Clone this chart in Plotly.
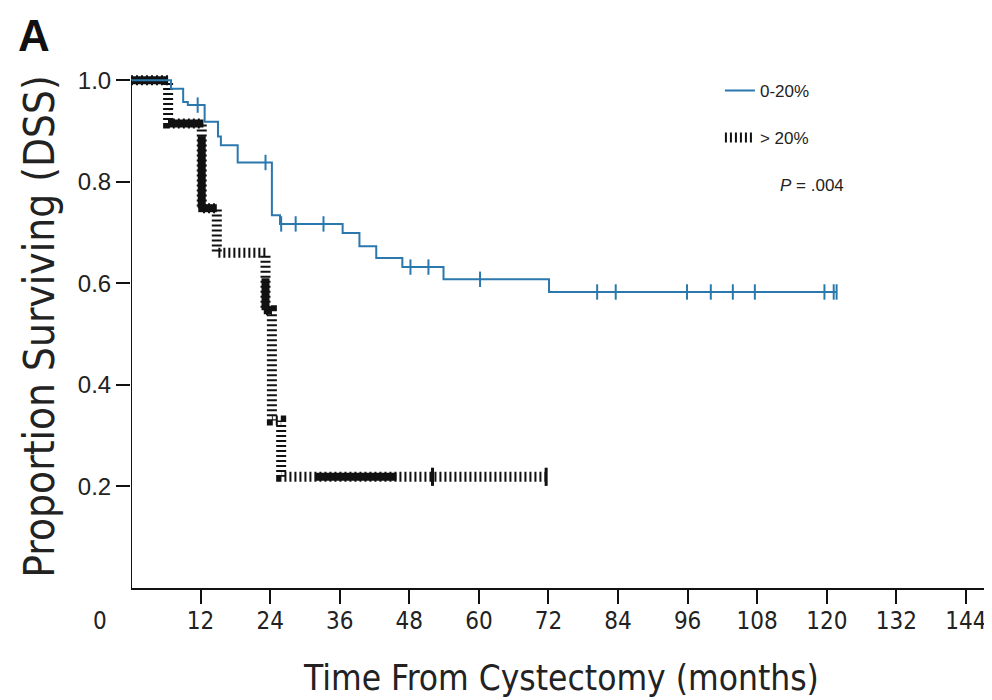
import plotly.graph_objects as go

# ---------------- data ----------------
# Kaplan-Meier step curve, 0-20% group (time in months, survival)
blue_t = [0, 6.9, 9.0, 9.8, 12.7, 15.0, 15.5, 18.4, 24.3, 25.7, 36.5, 39.4, 42.3, 46.8, 53.9, 72.1, 121.7]
blue_s = [1.0, 0.983, 0.957, 0.951, 0.918, 0.889, 0.872, 0.838, 0.734, 0.717, 0.699, 0.673, 0.650, 0.632, 0.608, 0.583, 0.583]
blue_censor_t = [11.5, 23.2, 25.9, 28.4, 33.2, 48.2, 51.3, 60.2, 80.4, 83.6, 95.9, 100.0, 103.8, 107.6, 119.6, 121.2, 121.7]

# >20% group
black_t = [0, 6.4, 12.2, 14.8, 23.2, 24.3, 25.9, 71.6]
black_s = [1.0, 0.915, 0.748, 0.66, 0.547, 0.33, 0.219, 0.219]
black_censor_t = [52.0, 71.6]

# stretches of the >20% curve that print as solid (dense overlapping marks)
dense_h = [(1.0, 0.0, 6.4), (0.915, 6.4, 12.5), (0.748, 11.6, 14.8), (0.547, 22.9, 24.3), (0.219, 31.7, 45.8)]
dense_v = [(12.2, 0.89, 0.748), (23.2, 0.61, 0.547)]

x_ticks = [12, 24, 36, 48, 60, 72, 84, 96, 108, 120, 132, 144]
x_range = [0, 148.5]
y_ticks = [0.2, 0.4, 0.6, 0.8, 1.0]
y_ticklabels = ["0.2", "0.4", "0.6", "0.8", "1.0"]

group_names = ["0-20%", "> 20%"]
p_text = "<i>P</i> = .004"

BLUE = "#2a78ad"
BLACK = "#111111"
COND = "DejaVu Sans Condensed, Liberation Sans, sans-serif"


def step_value(ts, ss, t):
    v = ss[0]
    for ti, si in zip(ts, ss):
        if ti <= t:
            v = si
    return v


fig = go.Figure()

# >20% hatched curve
fig.add_trace(go.Scatter(
    x=black_t, y=black_s, mode="lines", line=dict(shape="hv", color=BLACK, width=10, dash="2px,3px"),
    name=group_names[1], legendgroup="g2", legendrank=2, hoverinfo="skip"))

# dense solid stretches
dx, dy = [], []
for lev, t0, t1 in dense_h:
    dx += [t0, t1, None]
    dy += [lev, lev, None]
for t, s0, s1 in dense_v:
    dx += [t, t, None]
    dy += [s0, s1, None]
fig.add_trace(go.Scatter(x=dx, y=dy, mode="lines", line=dict(color=BLACK, width=8),
                         showlegend=False, hoverinfo="skip"))

# >20% censor marks
fig.add_trace(go.Scatter(
    x=black_censor_t, y=[step_value(black_t, black_s, t) for t in black_censor_t], mode="markers",
    marker=dict(symbol="line-ns", size=13, line=dict(color=BLACK, width=3)),
    showlegend=False, hoverinfo="skip", cliponaxis=False))

# 0-20% curve
fig.add_trace(go.Scatter(
    x=blue_t, y=blue_s, mode="lines", line=dict(shape="hv", color=BLUE, width=2),
    name=group_names[0], legendgroup="g1", legendrank=1, hoverinfo="skip"))
fig.add_trace(go.Scatter(
    x=blue_censor_t, y=[step_value(blue_t, blue_s, t) for t in blue_censor_t], mode="markers",
    marker=dict(symbol="line-ns", size=11, line=dict(color=BLUE, width=2)),
    showlegend=False, hoverinfo="skip", cliponaxis=False))

# y axis line (from 0 to 1.0)
fig.add_shape(type="line", xref="x", yref="y", x0=0, x1=0, y0=0, y1=1.0,
              line=dict(color=BLACK, width=2))

fig.update_layout(
    template="none",
    width=984, height=692,
    margin=dict(l=123, r=0, t=57, b=112),
    paper_bgcolor="white", plot_bgcolor="white",
    font=dict(family="Liberation Sans, Arial, sans-serif", color="#222222"),
    xaxis=dict(range=x_range, tickvals=x_ticks, ticks="outside", ticklen=14, tickwidth=2,
               automargin=False, ticklabelstandoff=-4,
               tickcolor=BLACK, showline=True, linecolor=BLACK, linewidth=2, showgrid=False,
               zeroline=False, tickfont=dict(family=COND, size=24, color="#222"),
               title=dict(text="Time From Cystectomy (months)", standoff=32,
                          font=dict(family=COND, size=35, color="#222"))),
    yaxis=dict(range=[0, 1.03], tickvals=y_ticks, ticktext=y_ticklabels, ticks="outside", ticklen=14,
               automargin=False,
               tickwidth=2, tickcolor=BLACK, showline=False, showgrid=False, zeroline=False,
               tickfont=dict(size=24, color="#222"),
               title=dict(text="Proportion Surviving (DSS)", standoff=10,
                          font=dict(family=COND, size=42, color="#222"))),
    legend=dict(x=0.684, y=0.985, xanchor="left", yanchor="top", font=dict(size=17, color="#222"),
                traceorder="grouped", tracegroupgap=22, bgcolor="rgba(0,0,0,0)", itemwidth=30),
    showlegend=True,
)

fig.add_annotation(text=p_text, xref="paper", yref="paper", x=0.751, y=0.769, xanchor="left",
                   yanchor="middle", showarrow=False, font=dict(size=17, color="#222"))
# "0" label sits left of the axis origin in the reference
fig.add_annotation(text="0", xref="paper", yref="paper", x=-5.3 / x_range[1], y=0, yshift=-33,
                   xanchor="center", yanchor="middle", showarrow=False,
                   font=dict(family=COND, size=24, color="#222"))
fig.add_annotation(text="<b>A</b>", xref="paper", yref="paper", x=-0.133, y=1.005, xanchor="left",
                   yanchor="bottom", showarrow=False, font=dict(size=44, color=BLACK))

fig.write_html("out.html")
